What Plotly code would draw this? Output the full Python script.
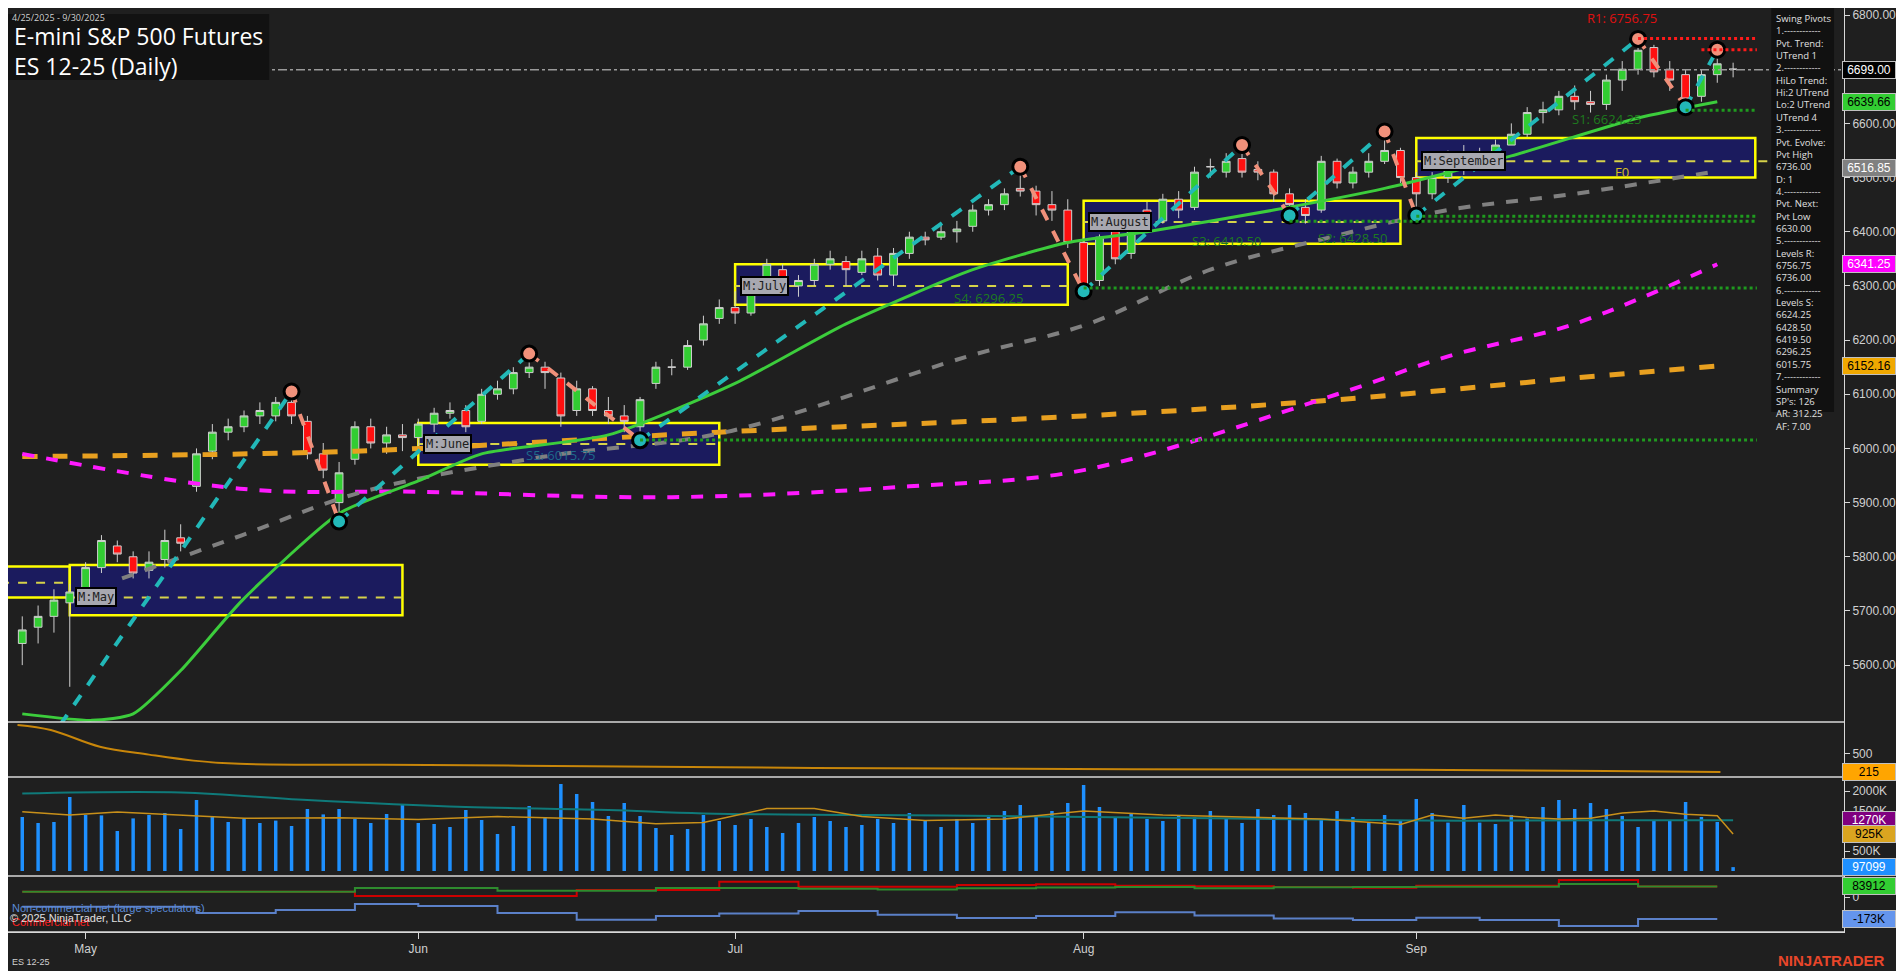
import plotly.graph_objects as go
import pandas as pd

# ---------------- data ----------------
holidays = ["2025-05-26", "2025-06-19", "2025-07-04", "2025-09-01"]
dates = pd.bdate_range("2025-04-25", "2025-09-30", freq="C", holidays=holidays)

open_ = [5640,5670,5690,5715,
 5735,5780,5820,5800,5775,5795,5835,5930,5995,6030,6040,6060,6060,6085,6050,5990,5900,5980,6040,6010,6025,
 6020,6045,6065,6070,6050,6100,6110,6140,6150,6130,6070,6110,6070,6060,6040,6120,6150,6150,6200,6240,
 6260,6250,6295,6330,6300,6310,6340,6345,6325,6355,6320,6360,6390,6390,6400,6410,6440,6450,6480,6475,6450,6440,
 6380,6310,6400,6360,6440,6420,6460,6445,6520,6510,6535,6515,6510,6470,6445,6440,6530,6490,6510,6530,6550,
 6500,6470,6500,6540,6520,6540,6560,6580,6620,6625,6650,6640,6635,6680,6700,6740,6700,6690,6650,6690,6700]
high = [5690,5710,5740,5750,
 5790,5840,5830,5810,5810,5850,5860,6000,6045,6055,6070,6085,6095,6105,6060,6010,5975,6050,6055,6040,6045,
 6055,6075,6085,6080,6110,6125,6150,6175,6160,6140,6125,6115,6095,6080,6095,6160,6165,6200,6245,6275,
 6290,6300,6350,6340,6320,6350,6365,6355,6365,6370,6370,6400,6400,6415,6420,6450,6460,6480,6520,6485,6475,6460,
 6390,6395,6410,6420,6455,6470,6475,6520,6535,6545,6560,6530,6515,6480,6460,6540,6535,6520,6545,6585,6555,
 6510,6510,6550,6560,6555,6570,6600,6630,6640,6660,6670,6660,6690,6715,6756,6745,6715,6700,6700,6735,6712]
low = [5600,5640,5660,5560,
 5720,5770,5790,5760,5760,5780,5810,5920,5980,6015,6030,6045,6050,6045,5980,5945,5865,5970,6000,5990,5995,
 5990,6030,6055,6030,6045,6090,6100,6130,6110,6040,6060,6060,6045,6030,6015,6110,6135,6145,6190,6230,
 6230,6245,6290,6290,6280,6300,6330,6300,6320,6310,6300,6350,6375,6385,6380,6400,6430,6440,6465,6430,6420,6370,
 6290,6300,6340,6350,6400,6415,6425,6440,6500,6500,6500,6495,6455,6430,6415,6435,6480,6480,6500,6525,6490,
 6430,6460,6490,6505,6515,6530,6560,6575,6600,6615,6625,6620,6625,6660,6690,6685,6660,6630,6640,6675,6685]
close = [5665,5690,5720,5735,
 5780,5830,5805,5770,5790,5830,5825,5990,6030,6040,6060,6070,6085,6060,5990,5960,5955,6040,6010,6025,6020,
 6045,6065,6070,6040,6100,6110,6140,6150,6140,6060,6110,6070,6060,6050,6090,6150,6150,6190,6230,6260,
 6250,6290,6340,6300,6310,6340,6350,6330,6350,6320,6360,6390,6385,6400,6405,6440,6450,6470,6475,6450,6440,6380,
 6300,6390,6350,6410,6420,6460,6440,6510,6520,6530,6510,6510,6470,6450,6430,6530,6490,6510,6530,6550,6500,
 6470,6500,6540,6520,6540,6560,6580,6620,6625,6650,6640,6635,6680,6700,6735,6695,6680,6645,6690,6710,6700]
volume_k = [1350,1200,1225,1850,1400,1390,1000,1315,1400,1450,1050,1775,1350,1225,1310,1200,1260,1125,1550,1415,
 1550,1300,1200,1425,1650,1200,1175,1100,1525,1275,925,1125,1625,1325,2175,1925,1725,1375,1700,1375,1075,900,1050,
 1400,1250,1150,1300,1100,950,1200,1350,1250,1100,1150,1300,1200,1450,1250,1100,1300,1200,1350,1500,
 1650,1400,1500,1700,2150,1600,1350,1450,1300,1250,1400,1350,1500,1300,1200,1550,1400,1650,1450,1300,1500,1350,1200,1400,
 1275,1800,1450,1210,1650,1210,1175,1400,1310,1600,1775,1550,1700,1550,1375,1100,1275,1260,1725,1350,1225,97]

month_ticks = ["May", "Jun", "Jul", "Aug", "Sep"]
month_tick_idx = [4, 25, 45, 67, 88]

# moving averages (sparse readings: bar index, price)
ma_green_idx = [0, 4.4, 7, 10, 13.9, 20, 25, 29, 37, 45, 52, 60, 66, 71, 79, 86, 94, 102, 107]
ma_green = [5510, 5498, 5510, 5590, 5720, 5880, 5940, 5990, 6025, 6120, 6230, 6330, 6380, 6400, 6440, 6480, 6540, 6610, 6640]
ma_gray_idx = [6.3, 13.9, 21.5, 33, 44.4, 59.7, 67.3, 75, 82.6, 90, 98, 107]
ma_gray = [5760, 5840, 5920, 5985, 6030, 6170, 6230, 6330, 6390, 6440, 6470, 6512]
ma_mag_idx = [0, 14, 25, 41, 56, 67, 83, 90, 98, 107]
ma_mag = [5990, 5925, 5920, 5910, 5930, 5960, 6100, 6170, 6230, 6340]
ma_orange_idx = [0, 21, 44, 67, 83, 98, 107]
ma_orange = [5985, 5995, 6030, 6060, 6090, 6130, 6152]

# swing pivots
pivot_idx = [2.4, 17, 20, 32, 39, 63, 67, 77, 80, 86, 88, 102, 105, 107]
pivot_price = [5490, 6105, 5865, 6175, 6015, 6520, 6290, 6560, 6430, 6585, 6430, 6756, 6630, 6736]

# monthly boxes: start, end, top, bottom, mid, label
box_x0 = [-1.4, 3, 25, 45, 67, 88]
box_x1 = [3, 24, 44, 66, 87, 109.4]
box_top = [5782, 5785, 6047, 6340, 6457, 6573]
box_bot = [5725, 5692, 5970, 6265, 6378, 6500]
box_mid = [5752, 5725, 6008, 6300, 6418, 6530]
box_label = ["", "M:May", "M:June", "M:July", "M:August", "M:September"]

# sub-panel series
atr_idx = [-0.3, 1.8, 4.9, 8, 10.8, 13.7, 22.7, 31.5, 50, 70, 87, 100, 107.2]
atr_val = [960, 880, 615, 490, 395, 345, 330, 315, 280, 260, 250, 230, 215]
vol_avg_idx = [0, 3, 6, 10, 14, 20, 25, 30, 36, 40, 43, 47, 50, 53, 57, 62, 67, 72, 77, 82, 87, 89, 91, 93, 95, 97, 99, 101, 103, 105, 107, 108]
vol_avg = [1480, 1400, 1475, 1400, 1320, 1330, 1290, 1360, 1300, 1180, 1210, 1560, 1560, 1360, 1260, 1300, 1500, 1400, 1350, 1300, 1165, 1400, 1320, 1400, 1340, 1300, 1320, 1450, 1500, 1420, 1380, 925]
vol_long_idx = [0, 10, 18, 28, 37, 43, 60, 75, 88, 100, 108]
vol_long = [1940, 1965, 1775, 1600, 1525, 1440, 1380, 1320, 1260, 1270, 1270]
cot_idx = [0, 6, 11, 16, 21, 25, 30, 35, 40, 44, 49, 54, 59, 64, 69, 74, 79, 84, 88, 92, 97, 102, 107]
cot_noncomm = [-76, -76, -126, -103, -55, -71, -126, -179, -150, -130, -110, -140, -165, -150, -120, -145, -170, -181, -163, -181, -229, -173, -173]
cot_green = [42, 42, 42, 42, 71, 71, 50, 50, 71, 71, 65, 60, 70, 75, 80, 70, 78, 80, 81, 81, 103, 84, 84]
cot_comm = [42, 42, 42, 42, 8, 8, 8, 55, 55, 121, 81, 81, 95, 100, 90, 85, 80, 74, 89, 89, 134, 84, 84]

swing_text = ["Swing Pivots", "1.------------", "Pvt. Trend:", "UTrend 1", "2.------------", "HiLo Trend:",
              "Hi:2 UTrend", "Lo:2 UTrend", "UTrend 4", "3.------------", "Pvt. Evolve:", "Pvt High", "6736.00",
              "D: 1", "4.------------", "Pvt. Next:", "Pvt Low", "6630.00", "5.------------", "Levels R:",
              "6756.75", "6736.00", "6.------------", "Levels S:", "6624.25", "6428.50", "6419.50", "6296.25",
              "6015.75", "7.------------", "Summary", "SP's: 126", "AR: 312.25", "AF: 7.00"]

# ---------------- figure ----------------
# page body has an 8px margin: figure is 1888x963, placed at (8, 8) in the screenshot
OFF = 8
X = list(range(len(dates)))
H = 924.0   # plot-area height (screen y 8..932)
W = 1842.0  # plot-area width  (screen x 8..1850)
def py(p):
    return 1 - (p - OFF) / H
def px(x):
    return (x - OFF) / W

BG = "#1f1f1f"
fig = go.Figure()

for i in range(len(box_x0)):
    fig.add_shape(type="rect", x0=box_x0[i], x1=box_x1[i], y0=box_bot[i], y1=box_top[i], xref="x", yref="y",
                  fillcolor="#1b1b5e", line=dict(color="#ffff00", width=2.5), layer="below")
    fig.add_shape(type="line", x0=box_x0[i], x1=box_x1[i] + (1 if i == 5 else 0), y0=box_mid[i], y1=box_mid[i],
                  xref="x", yref="y", line=dict(color="#d6d24a", width=2, dash="dash"), layer="below")

# levels
fig.add_shape(type="line", xref="paper", x0=0, x1=1, yref="y", y0=6699, y1=6699, line=dict(color="#9a9a9a", width=1.3, dash="dashdot"))
fig.add_shape(type="line", xref="x", x0=102, x1=109.5, yref="y", y0=6756.75, y1=6756.75, line=dict(color="#ff1a1a", width=3, dash="dot"))
fig.add_shape(type="line", xref="x", x0=106, x1=109.5, yref="y", y0=6736, y1=6736, line=dict(color="#ff1a1a", width=3, dash="dot"))
for lv, xs in [(6624.25, 105), (6428.5, 88), (6419.5, 80), (6296.25, 67), (6015.75, 39)]:
    fig.add_shape(type="line", xref="x", x0=xs, x1=109.5, yref="y", y0=lv, y1=lv, line=dict(color="#1f9a1f", width=3, dash="dot"))

# moving averages
fig.add_trace(go.Scatter(x=ma_orange_idx, y=ma_orange, mode="lines", line=dict(color="#e8a020", width=5, dash="dash", shape="spline"), xaxis="x", yaxis="y", hoverinfo="skip"))
fig.add_trace(go.Scatter(x=ma_mag_idx, y=ma_mag, mode="lines", line=dict(color="#ff1aff", width=4, dash="dash", shape="spline"), xaxis="x", yaxis="y", hoverinfo="skip"))
fig.add_trace(go.Scatter(x=ma_gray_idx, y=ma_gray, mode="lines", line=dict(color="#808080", width=4, dash="dash", shape="spline"), xaxis="x", yaxis="y", hoverinfo="skip"))
fig.add_trace(go.Scatter(x=ma_green_idx, y=ma_green, mode="lines", line=dict(color="#3ccd3c", width=3, shape="spline", smoothing=0.6), xaxis="x", yaxis="y", hoverinfo="skip"))

# candles
fig.add_trace(go.Candlestick(x=X, open=open_, high=high, low=low, close=close, xaxis="x", yaxis="y",
                             increasing=dict(fillcolor="#32cd32", line=dict(color="#cfcfcf", width=1)),
                             decreasing=dict(fillcolor="#ff1010", line=dict(color="#cfcfcf", width=1)),
                             whiskerwidth=0))

# swing legs
for k in range(len(pivot_idx) - 1):
    up = pivot_price[k + 1] > pivot_price[k]
    fig.add_trace(go.Scatter(x=pivot_idx[k:k + 2], y=pivot_price[k:k + 2], mode="lines",
                             line=dict(color="#22b8b8" if up else "#f0907a", width=4, dash="dash"),
                             xaxis="x", yaxis="y", hoverinfo="skip"))
hi_i = [i for i in range(1, len(pivot_idx)) if i % 2 == 1]
lo_i = [i for i in range(1, len(pivot_idx)) if i % 2 == 0]
fig.add_trace(go.Scatter(x=[pivot_idx[i] for i in hi_i], y=[pivot_price[i] for i in hi_i], mode="markers",
                         marker=dict(size=15, color="#f0907a", line=dict(color="black", width=3)), xaxis="x", yaxis="y"))
fig.add_trace(go.Scatter(x=[pivot_idx[i] for i in lo_i], y=[pivot_price[i] for i in lo_i], mode="markers",
                         marker=dict(size=15, color="#22b8b8", line=dict(color="black", width=3)), xaxis="x", yaxis="y"))

# panel 2
fig.add_trace(go.Scatter(x=atr_idx, y=atr_val, mode="lines", line=dict(color="#c8860a", width=2, shape="spline"), xaxis="x", yaxis="y2"))
# panel 3
fig.add_trace(go.Bar(x=X, y=volume_k, marker=dict(color="#1e90ff", line=dict(width=0)), width=0.22, xaxis="x", yaxis="y3"))
fig.add_trace(go.Scatter(x=vol_long_idx, y=vol_long, mode="lines", line=dict(color="#0f7a7a", width=2, shape="spline"), xaxis="x", yaxis="y3"))
fig.add_trace(go.Scatter(x=vol_avg_idx, y=vol_avg, mode="lines", line=dict(color="#c8901a", width=1.5), xaxis="x", yaxis="y3"))
# panel 4
fig.add_trace(go.Scatter(x=cot_idx, y=cot_comm, mode="lines", line=dict(color="#cc0000", width=2, shape="hv"), xaxis="x", yaxis="y4"))
fig.add_trace(go.Scatter(x=cot_idx, y=cot_green, mode="lines", line=dict(color="#2e8b2e", width=2, shape="hv"), xaxis="x", yaxis="y4"))
fig.add_trace(go.Scatter(x=cot_idx, y=cot_noncomm, mode="lines", line=dict(color="#5b80c8", width=2, shape="hv"), xaxis="x", yaxis="y4"))

tickfont = dict(color="#d0d0d0", size=12, family="Arial")
axis_common = dict(side="right", showgrid=False, zeroline=False, showline=True, linecolor="#d8d8d8",
                   ticks="outside", tickcolor="#d8d8d8", ticklen=5, tickfont=tickfont, fixedrange=True)
fig.update_layout(
    width=1888, height=963, paper_bgcolor=BG, plot_bgcolor=BG, showlegend=False,
    margin=dict(l=0, r=46, t=0, b=39),
    xaxis=dict(range=[-0.9, 115], anchor="y4", tickvals=month_tick_idx, ticktext=month_ticks, showgrid=False,
               zeroline=False, showline=True, linecolor="#d8d8d8", ticks="outside", tickcolor="#d8d8d8", ticklen=6,
               tickfont=dict(color="#d0d0d0", size=12, family="Arial"), rangeslider=dict(visible=False)),
    yaxis=dict(domain=[py(722), 1], range=[5495, 6813], tickvals=list(range(5600, 6801, 100)),
               tickformat=".2f", **axis_common),
    yaxis2=dict(domain=[py(777), py(722)], range=[136, 1006], tickvals=[500], **axis_common),
    yaxis3=dict(domain=[py(876), py(777)], range=[-125, 2350], tickvals=[500, 1000, 1500, 2000],
                ticktext=["500K", "1000K", "1500K", "2000K"], **axis_common),
    yaxis4=dict(domain=[0, py(876)], range=[-276, 166], tickvals=[0], **axis_common),
    bargap=0.7,
)

# panel separators
for p in [722, 777, 876]:
    fig.add_shape(type="line", xref="paper", x0=0, x1=1, yref="paper", y0=py(p), y1=py(p), line=dict(color="#d8d8d8", width=1.5))
fig.add_shape(type="line", xref="paper", x0=0, x1=1, yref="paper", y0=0, y1=0, line=dict(color="#d8d8d8", width=1.5))

ann = []
# title block
fig.add_shape(type="rect", xref="paper", yref="paper", x0=0, x1=px(270), y0=py(80), y1=py(14), fillcolor="#121212", line=dict(width=0))
ann.append(dict(text="4/25/2025 - 9/30/2025", x=px(10), y=py(9), xanchor="left", yanchor="top", font=dict(size=9, color="#d0d0d0")))
ann.append(dict(text="E-mini S&P 500 Futures", x=px(12), y=py(18), xanchor="left", yanchor="top", font=dict(size=23, color="white")))
ann.append(dict(text="ES 12-25 (Daily)", x=px(12), y=py(48), xanchor="left", yanchor="top", font=dict(size=23, color="white")))
# swing pivots box
fig.add_shape(type="rect", xref="paper", yref="paper", x0=px(1777), x1=px(1840), y0=py(412), y1=py(8), fillcolor="#111111", line=dict(width=0))
ann.append(dict(text="<br>".join(swing_text), x=px(1780), y=py(10), xanchor="left", yanchor="top", align="left",
                font=dict(size=9.5, color="#e0e0e0")))
for a in ann:
    a.update(xref="paper", yref="paper", showarrow=False)
fig.update_layout(annotations=ann)

def data_text(t, x, y, color, size=12, **kw):
    fig.add_annotation(text=t, x=x, y=y, xref="x", yref="y", showarrow=False, font=dict(color=color, size=size), **kw)

data_text("R1: 6756.75", 101, 6795, "#e01010", 13)
data_text("S1: 6624.25", 100, 6608, "#1e7a1e", 13)
data_text("S2: 6428.50", 84, 6388, "#1e7a1e", 13)
data_text("S3: 6419.50", 76, 6383, "#1e7a1e", 13)
data_text("S4: 6296.25", 61, 6278, "#1e7a1e", 13)
data_text("S5: 6015.75", 34, 5988, "#1e6a8a", 13)
data_text("F0", 101, 6510, "#d8c020", 13)
for i in range(1, len(box_label)):
    fig.add_annotation(text=box_label[i], x=box_x0[i] + 0.3, y=box_mid[i], xref="x", yref="y", xanchor="left",
                       showarrow=False, bgcolor="#a8a8b0", bordercolor="black", borderwidth=2, borderpad=1,
                       font=dict(family="DejaVu Sans Mono", size=12, color="#202020"))

# right-side value tags
def tag(t, y, yref, bg, fg):
    fig.add_annotation(text=t, x=1, y=y, xref="paper", yref=yref, xanchor="left", xshift=-2, showarrow=False,
                       bgcolor=bg, bordercolor="#c0c0c0", borderwidth=1, width=50, align="center",
                       font=dict(color=fg, size=12, family="Arial"))
tag("6699.00", 6699, "y", "#000000", "white")
tag("6639.66", 6639.66, "y", "#32cd32", "black")
tag("6516.85", 6516.85, "y", "#808080", "white")
tag("6341.25", 6341.25, "y", "#ff00ff", "white")
tag("6152.16", 6152.16, "y", "#f0a800", "black")
tag("215", 215, "y2", "#ffa500", "black")
tag("1270K", 1270, "y3", "#800080", "white")
tag("925K", 925, "y3", "#daa520", "black")
tag("97099", 97, "y3", "#1e90ff", "white")
tag("83912", 84, "y4", "#32cd32", "black")
tag("-173K", -173, "y4", "#6495ed", "black")

def ptext(t, x, ypx, color, size, anchor="left", bold=False):
    fig.add_annotation(text=("<b>%s</b>" % t) if bold else t, x=px(x), y=py(ypx), xref="paper", yref="paper",
                       xanchor=anchor, yanchor="middle", showarrow=False, font=dict(color=color, size=size, family="Arial"))
ptext("Commercial net", 10, 922, "#ff2020", 11)
ptext("Non-commercial net (large speculators)", 10, 908, "#5b8bd8", 11)
ptext("© 2025 NinjaTrader, LLC", 8, 918, "#e0e0e0", 11)
ptext("ES 12-25", 10, 962, "#d0d0d0", 9)
ptext("NINJATRADER", 1893, 960, "#e8462a", 15, anchor="right", bold=True)

fig.write_html("out.html")
